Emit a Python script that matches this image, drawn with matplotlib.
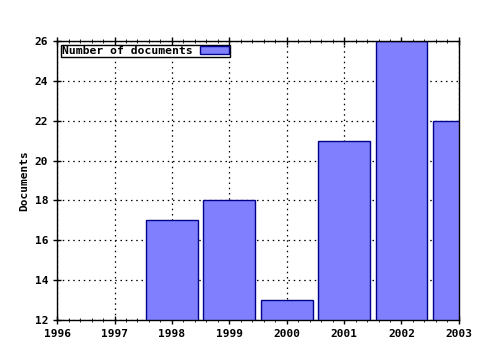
import matplotlib
matplotlib.use("Agg")
import matplotlib.pyplot as plt
from matplotlib.ticker import MultipleLocator

# data
years = [1998, 1999, 2000, 2001, 2002, 2003]
documents = [17, 18, 13, 21, 26, 22]
x_ticks = [1996, 1997, 1998, 1999, 2000, 2001, 2002, 2003]
y_ticks = [12, 14, 16, 18, 20, 22, 24, 26]

plt.rcParams['font.family'] = ['DejaVu Sans Mono']
plt.rcParams['font.weight'] = 'bold'

fig = plt.figure(figsize=(4.8, 3.5), dpi=100)
ax = fig.add_axes([0.119, 0.086, 0.837, 0.797])

ax.bar(years, documents, width=0.9, color='#8080ff', edgecolor='#00008b',
       linewidth=1.0, label='Number of documents', zorder=2)

ax.set_xlim(1996, 2003)
ax.set_ylim(12, 26)
ax.set_xticks(x_ticks)
ax.set_yticks(y_ticks)
ax.xaxis.set_minor_locator(MultipleLocator(0.2))
ax.tick_params(axis='both', which='major', direction='inout', length=6, width=1,
               labelsize=8, top=True)
ax.tick_params(axis='x', which='minor', direction='inout', length=3, top=True)
ax.grid(True, which='major', linestyle=(0, (1.2, 3)), color='black', linewidth=0.9, zorder=0)
ax.set_axisbelow(True)
for s in ax.spines.values():
    s.set_linewidth(1.0)

ax.set_ylabel('Documents', fontsize=8, fontweight='bold')

leg = ax.legend(loc='upper left', fontsize=8.2, frameon=True, fancybox=False,
                edgecolor='black', framealpha=1, handlelength=2.6, handleheight=0.6,
                borderpad=0.1, borderaxespad=0.35, markerfirst=False, handletextpad=0.6)
leg.get_frame().set_linewidth(1.0)

fig.savefig('out.png', dpi=100)
